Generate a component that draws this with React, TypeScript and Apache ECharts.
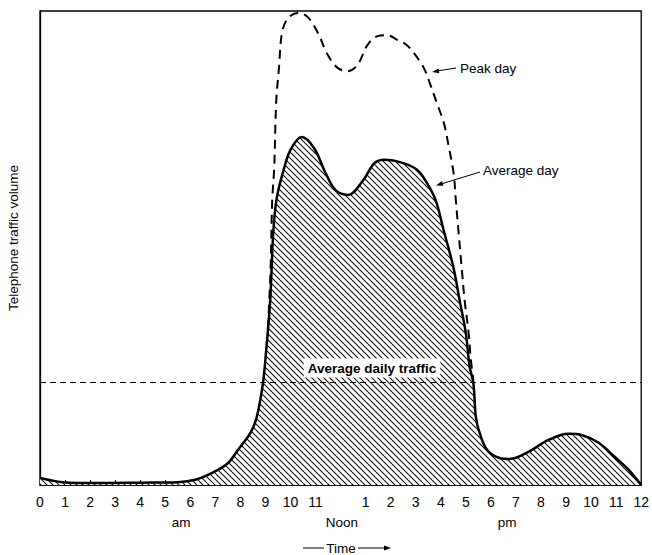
import React, { useEffect, useRef } from "react";
import * as echarts from "echarts";

// Hours from midnight (0–24) and relative traffic volume (0–100)
const avgHours = [0, 0.9, 2.3, 4, 5.5, 6.2, 6.85, 7.5, 7.9, 8.4, 8.65, 8.9, 9.03, 9.19, 9.31, 9.45, 9.7, 10.0, 10.45, 10.95, 11.4, 11.8, 12.3, 12.9, 13.35, 13.75, 14.5, 15.05, 15.45, 15.8, 16.1, 16.5, 16.75, 17.0, 17.15, 17.3, 17.4, 17.55, 17.85, 18.35, 18.75, 19.5, 20.3, 21.1, 21.65, 22.3, 22.95, 23.5, 24];
const avgValues = [1.5, 0.6, 0.4, 0.5, 0.6, 1.1, 2.5, 4.6, 7.4, 11.0, 14.3, 21.5, 28.5, 39.0, 53.2, 60.5, 66, 70.7, 73.4, 71, 65.8, 62.2, 61.2, 64.3, 67.9, 68.6, 67.9, 66.5, 63.7, 60, 54, 46, 39, 32, 25, 21.5, 14.3, 11, 7.4, 5.7, 5.5, 7.0, 9.5, 10.8, 10.5, 8.9, 5.9, 3.2, 0];

const peakHours = [9.1, 9.2, 9.27, 9.35, 9.43, 9.54, 9.66, 9.9, 10.3, 10.69, 11.09, 11.49, 11.88, 12.28, 12.67, 13.07, 13.47, 13.86, 14.26, 14.6, 14.93, 15.33, 15.56, 15.84, 16.12, 16.32, 16.51, 16.6, 16.71, 16.83, 16.95, 17.11, 17.19, 17.3];
const peakValues = [33, 45, 60, 67, 81, 88, 95.4, 98.5, 99.6, 98.7, 95.4, 90.7, 88, 87.3, 88.6, 92.8, 94.7, 94.9, 93.9, 93, 91.1, 87.9, 84.8, 80.6, 76.4, 71.3, 65.8, 60.1, 53.2, 46, 39, 32.1, 27, 22];

const averageDailyTraffic = 21.7;

const tickLabels = ["0", "1", "2", "3", "4", "5", "6", "7", "8", "9", "10", "11", "", "1", "2", "3", "4", "5", "6", "7", "8", "9", "10", "11", "12"];

const FONT = "'Liberation Sans', Arial, sans-serif";

function makeHatch() {
  const c = document.createElement("canvas");
  c.width = 6;
  c.height = 6;
  const ctx = c.getContext("2d")!;
  ctx.fillStyle = "#fff";
  ctx.fillRect(0, 0, 6, 6);
  ctx.strokeStyle = "#111";
  ctx.lineWidth = 1.1;
  ctx.beginPath();
  ctx.moveTo(-1, -1);
  ctx.lineTo(7, 7);
  ctx.moveTo(-1, 5);
  ctx.lineTo(1, 7);
  ctx.moveTo(5, -1);
  ctx.lineTo(7, 1);
  ctx.stroke();
  return c;
}

export default function App() {
  const ref = useRef<HTMLDivElement>(null);
  useEffect(() => {
    if (!ref.current) return;
    const chart = echarts.init(ref.current, null, { renderer: "svg" });
    const hatch = makeHatch();
    const avgData = avgHours.map((h, i) => [h, avgValues[i]]);
    const peakData = peakHours.map((h, i) => [h, peakValues[i]]);

    const arrowHead = (tx: number, ty: number, fx: number, fy: number) => {
      const ang = Math.atan2(ty - fy, tx - fx);
      const L = 7, W = 2.5;
      const bx = tx - L * Math.cos(ang), by = ty - L * Math.sin(ang);
      const px = -Math.sin(ang) * W, py = Math.cos(ang) * W;
      return {
        type: "polygon",
        shape: { points: [[tx, ty], [bx + px, by + py], [bx - px, by - py]] },
        style: { fill: "#000" },
      };
    };

    const TXT = `13.5px ${FONT}`;

    chart.setOption({
      animation: false,
      backgroundColor: "#fff",
      grid: { left: 40, right: 6, top: 11, bottom: 70, show: true, borderColor: "#000", borderWidth: 1.3, backgroundColor: "transparent" },
      xAxis: {
        type: "value",
        min: 0,
        max: 24,
        interval: 1,
        axisLine: { show: true, lineStyle: { color: "#000", width: 1.5 } },
        axisTick: { show: true, inside: true, length: 5, lineStyle: { color: "#000" } },
        axisLabel: {
          color: "#000",
          fontFamily: FONT,
          fontSize: 14,
          margin: 10,
          formatter: (v: number) => tickLabels[Math.round(v)] ?? "",
        },
        splitLine: { show: false },
      },
      yAxis: {
        type: "value",
        min: 0,
        max: 100,
        axisLine: { show: true, lineStyle: { color: "#000", width: 1.3 } },
        axisTick: { show: false },
        axisLabel: { show: false },
        splitLine: { show: false },
      },
      series: [
        {
          type: "line",
          name: "Average day",
          data: avgData,
          smooth: 0.35,
          symbol: "none",
          lineStyle: { color: "#000", width: 2.5 },
          areaStyle: { color: { image: hatch, repeat: "repeat", imageWidth: 6, imageHeight: 6 }, opacity: 1 },
          z: 2,
          markLine: {
            silent: true,
            symbol: "none",
            data: [{ yAxis: averageDailyTraffic }],
            lineStyle: { type: [6, 4], color: "#000", width: 1 },
            label: { show: false },
          },
        },
        {
          type: "line",
          name: "Peak day",
          data: peakData,
          smooth: 0.35,
          symbol: "none",
          lineStyle: { color: "#000", width: 2, type: [9, 6] },
          z: 3,
        },
      ],
      graphic: [
        {
          type: "text",
          x: 13,
          y: 238,
          rotation: Math.PI / 2,
          style: { text: "Telephone traffic volume", font: TXT, fill: "#000", align: "center", verticalAlign: "middle" },
        },
        {
          type: "text",
          x: 372,
          y: 368,
          z: 10,
          style: {
            text: "Average daily traffic",
            font: `bold 13.5px ${FONT}`,
            fill: "#000",
            align: "center",
            verticalAlign: "middle",
            backgroundColor: "#fff",
            padding: [3, 4, 2, 4],
          },
        },
        { type: "line", shape: { x1: 456, y1: 68, x2: 437, y2: 71 }, style: { stroke: "#000", lineWidth: 1 } },
        arrowHead(432, 72, 456, 68),
        { type: "text", x: 460, y: 68, style: { text: "Peak day", font: TXT, fill: "#000", verticalAlign: "middle" } },
        { type: "line", shape: { x1: 480, y1: 172, x2: 441, y2: 184 }, style: { stroke: "#000", lineWidth: 1 } },
        arrowHead(436, 185.5, 480, 172),
        { type: "text", x: 483, y: 170, style: { text: "Average day", font: TXT, fill: "#000", verticalAlign: "middle" } },
        { type: "text", x: 181, y: 522, style: { text: "am", font: TXT, fill: "#000", align: "center", verticalAlign: "middle" } },
        { type: "text", x: 342, y: 522, style: { text: "Noon", font: TXT, fill: "#000", align: "center", verticalAlign: "middle" } },
        { type: "text", x: 507, y: 522, style: { text: "pm", font: TXT, fill: "#000", align: "center", verticalAlign: "middle" } },
        { type: "line", shape: { x1: 303, y1: 548, x2: 324, y2: 548 }, style: { stroke: "#000", lineWidth: 1 } },
        { type: "text", x: 341, y: 548, style: { text: "Time", font: TXT, fill: "#000", align: "center", verticalAlign: "middle" } },
        { type: "line", shape: { x1: 358, y1: 548, x2: 384, y2: 548 }, style: { stroke: "#000", lineWidth: 1 } },
        arrowHead(391, 548, 358, 548),
      ],
    });
    return () => chart.dispose();
  }, []);
  return <div ref={ref} style={{ width: 652, height: 555, position: "absolute", left: 0, top: 0 }} />;
}
